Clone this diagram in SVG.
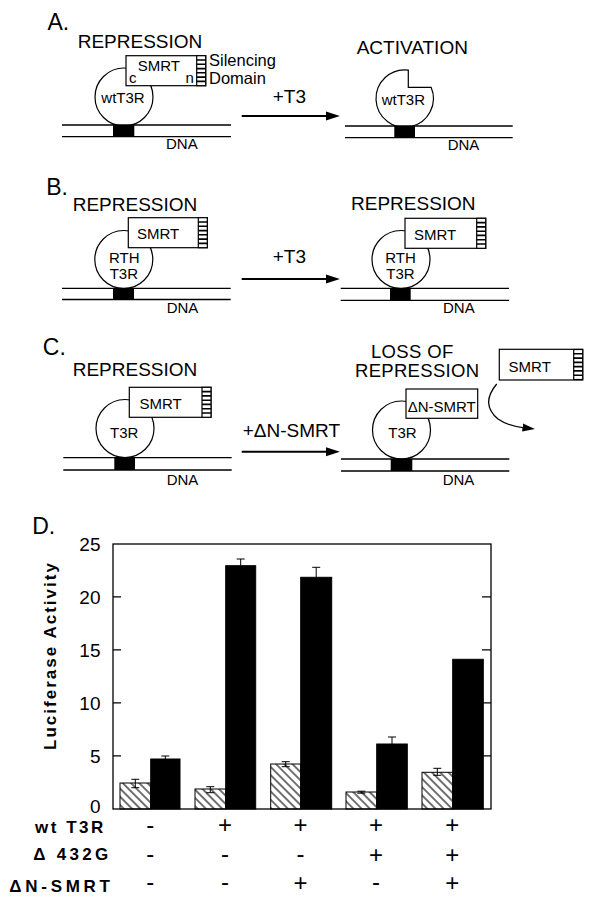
<svg xmlns="http://www.w3.org/2000/svg" width="600" height="905" viewBox="0 0 600 905">
<style>
text{font-family:"Liberation Sans",Arial,Helvetica,sans-serif;fill:#000}
.lbl{font-size:19px}
.sm{font-size:15px}
.pl{font-size:23px}
.tk{font-size:19px;text-anchor:end}
.sg{font-size:24px;text-anchor:middle}
.row{font-size:17px;font-weight:bold}
.mid{text-anchor:middle}
.ln{stroke:#000;stroke-width:1.3;fill:none}
.circ{stroke:#000;stroke-width:1.2;fill:#fff}
.box{stroke:#000;stroke-width:1.2;fill:#fff}
.arr{stroke:#000;stroke-width:2;fill:none}
.blk{fill:#000}
.hat{fill:url(#diag);stroke:#000;stroke-width:1}
.bar{fill:#000;stroke:#000;stroke-width:1}
.err{stroke:#000;stroke-width:1;fill:none}
</style>
<defs>
<marker id="ah" markerUnits="userSpaceOnUse" markerWidth="14" markerHeight="10" refX="6.7" refY="5" orient="auto"><path d="M0,0.5 L14,5 L0,9.5z" fill="#000"/></marker>
<marker id="ah2" markerUnits="userSpaceOnUse" markerWidth="13" markerHeight="9" refX="2" refY="4.5" orient="auto"><path d="M0,0.5 L12.5,4.5 L0,8.5z" fill="#000"/></marker>
<pattern id="diag" patternUnits="userSpaceOnUse" width="10" height="5.8" patternTransform="rotate(45)"><line x1="0" y1="2.9" x2="10" y2="2.9" stroke="#000" stroke-width="1.1"/></pattern>
<g id="dom"><rect x="0" y="0" width="9" height="30" fill="#fff" stroke="#000" stroke-width="1.2"/><path d="M0,4.3H9M0,8.6H9M0,12.9H9M0,17.1H9M0,21.4H9M0,25.7H9" stroke="#000" stroke-width="1.6"/></g>
</defs>
<rect width="600" height="905" fill="#fff"/>

<!-- Panel A -->
<g id="A-repression">
<text class="pl" x="47.5" y="30">A.</text>
<text class="lbl" x="77.7" y="48.3">REPRESSION</text>
<circle class="circ" cx="124" cy="97" r="29"/>
<path class="ln" d="M62,125H231M62,136.7H231"/>
<rect class="blk" x="113" y="125" width="21.3" height="11.7"/>
<rect class="box" x="126" y="55.7" width="79.7" height="30"/>
<use href="#dom" x="196.7" y="55.7"/>
<text class="sm mid" x="158.8" y="71">SMRT</text>
<text class="sm" x="129" y="83.3">c</text>
<text class="sm" x="185.5" y="83.3">n</text>
<text class="sm mid" x="123" y="103">wtT3R</text>
<text class="sm" x="166" y="149">DNA</text>
<text style="font-size:16.5px" x="209" y="65.7">Silencing</text>
<text style="font-size:16.5px" x="209" y="84">Domain</text>
</g>
<g id="A-activation">
<text class="lbl" x="356.7" y="54.3">ACTIVATION</text>
<path class="circ" d="M408.3,70.1 A28.7,28.7 0 1 0 431.1,87.3 L408.3,87.3 Z"/>
<path class="ln" d="M345,126H512.7M345,137.7H512.7"/>
<rect class="blk" x="394.3" y="126" width="20.7" height="11.7"/>
<text class="sm mid" x="403.3" y="105">wtT3R</text>
<text class="sm" x="447.7" y="150">DNA</text>
</g>

<!-- Panel B -->
<g id="B-repression-left">
<text class="pl" x="46.2" y="195">B.</text>
<text class="lbl" x="72.7" y="210.7">REPRESSION</text>
<circle class="circ" cx="123.8" cy="259.5" r="29"/>
<path class="ln" d="M62,288.3H230.7M62,299.5H230.7"/>
<rect class="blk" x="113" y="288.3" width="21" height="11.2"/>
<rect class="box" x="128.3" y="217.7" width="79" height="30"/>
<use href="#dom" x="198.3" y="217.7"/>
<text class="sm mid" x="158" y="239.3">SMRT</text>
<text class="sm mid" x="124.2" y="263.3">RTH</text>
<text class="sm mid" x="123.8" y="279">T3R</text>
<text class="sm" x="166.7" y="313.3">DNA</text>
</g>
<g id="B-repression-right">
<text class="lbl" x="351" y="210">REPRESSION</text>
<circle class="circ" cx="401" cy="259.5" r="29"/>
<path class="ln" d="M340.7,288.3H509M340.7,300.3H509"/>
<rect class="blk" x="390" y="288.3" width="20.7" height="12"/>
<rect class="box" x="405" y="218.3" width="80.7" height="30"/>
<use href="#dom" x="476.7" y="218.3"/>
<text class="sm mid" x="435" y="240">SMRT</text>
<text class="sm mid" x="400.5" y="263.3">RTH</text>
<text class="sm mid" x="400.5" y="279">T3R</text>
<text class="sm" x="443" y="313.3">DNA</text>
</g>

<!-- Panel C -->
<g id="C-repression">
<text class="pl" x="42.8" y="355">C.</text>
<text class="lbl" x="72.7" y="375.7">REPRESSION</text>
<circle class="circ" cx="125" cy="428.5" r="29"/>
<path class="ln" d="M63.3,457.7H231.7M63.3,470H231.7"/>
<rect class="blk" x="114.3" y="457.7" width="20.7" height="12.3"/>
<rect class="box" x="129.3" y="387.3" width="81.7" height="30"/>
<use href="#dom" x="202" y="387.3"/>
<text class="sm mid" x="160.5" y="409">SMRT</text>
<text class="sm mid" x="124.2" y="438.3">T3R</text>
<text class="sm" x="166.7" y="485">DNA</text>
</g>
<g id="C-loss">
<text style="font-size:18.5px" x="370.9" y="357.5" textLength="82.4">LOSS OF</text>
<text style="font-size:18.5px" x="355" y="377.2" textLength="124">REPRESSION</text>
<circle class="circ" cx="401.5" cy="430" r="29"/>
<path class="ln" d="M341,459H509.3M341,471H509.3"/>
<rect class="blk" x="390.7" y="459" width="21.6" height="12"/>
<rect class="box" x="406" y="389" width="71.7" height="29.3"/>
<text class="sm mid" x="441.7" y="411.7">ΔN-SMRT</text>
<text class="sm mid" x="402.5" y="438.3">T3R</text>
<text class="sm" x="442.7" y="485">DNA</text>
</g>
<g id="C-free-SMRT">
<rect class="box" x="499.3" y="349.3" width="83.4" height="30.7"/>
<use href="#dom" x="573.7" y="349.5"/>
<text class="sm mid" x="529.7" y="371.7">SMRT</text>
</g>

<!-- Connectors -->
<g id="connectors">
<line class="arr" x1="241.7" y1="116" x2="332.6" y2="116" marker-end="url(#ah)"/>
<text class="lbl" x="272.7" y="103">+T3</text>
<line class="arr" x1="241.7" y1="279" x2="332.6" y2="279" marker-end="url(#ah)"/>
<text class="lbl" x="272.7" y="263.3">+T3</text>
<line class="arr" x1="241.7" y1="451.7" x2="332.6" y2="451.7" marker-end="url(#ah)"/>
<text class="lbl" x="242.7" y="436.7">+ΔN-SMRT</text>
<path d="M496.7,384 Q480,404 498,419 Q508,426 524.5,427.8" stroke="#000" stroke-width="1.3" fill="none" marker-end="url(#ah2)"/>
</g>

<!-- Panel D chart -->
<g id="D-chart">
<text class="pl" x="32.2" y="534">D.</text>
<text class="row" transform="translate(55.5,656.5) rotate(-90)" text-anchor="middle" textLength="187">Luciferase  Activity</text>
<rect x="113" y="544" width="378" height="265" fill="none" stroke="#000" stroke-width="1.3"/>
<path class="ln" d="M113,596.9H121M113,649.9H121M113,702.9H121M113,755.9H121M482,596.9H491M482,649.9H491M482,702.9H491M482,755.9H491"/>
<text class="tk" x="100.5" y="550.5">25</text>
<text class="tk" x="100.5" y="603.5">20</text>
<text class="tk" x="100.5" y="656.5">15</text>
<text class="tk" x="100.5" y="709.5">10</text>
<text class="tk" x="100.5" y="762.5">5</text>
<text class="tk" x="100.5" y="813">0</text>

<rect class="hat" x="120" y="783" width="30.7" height="26"/>
<rect class="bar" x="150.7" y="759" width="29.3" height="50"/>
<rect class="hat" x="195" y="789" width="30.7" height="20"/>
<rect class="bar" x="225.7" y="565.7" width="30" height="243.3"/>
<rect class="hat" x="270.7" y="764" width="30" height="45"/>
<rect class="bar" x="300.7" y="577.3" width="31" height="231.7"/>
<rect class="hat" x="346" y="792" width="30.7" height="17"/>
<rect class="bar" x="376.7" y="744" width="30.6" height="65"/>
<rect class="hat" x="422" y="772.3" width="30.7" height="36.7"/>
<rect class="bar" x="452.7" y="659.3" width="30.6" height="149.7"/>

<path class="err" d="M135.3,779.3V787.7M131.3,779.3H139.3M131.3,787.7H139.3"/>
<path class="err" d="M165.3,756V759M161.3,756H169.3"/>
<path class="err" d="M210.3,786.7V792.7M206.3,786.7H214.3M206.3,792.7H214.3"/>
<path class="err" d="M240.7,559V565.7M236.7,559H244.7"/>
<path class="err" d="M285.7,761.7V766.7M281.7,761.7H289.7M281.7,766.7H289.7"/>
<path class="err" d="M316.2,567.3V577.3M312.2,567.3H320.2"/>
<path class="err" d="M361.3,791.2V793.2M357.3,791.2H365.3M357.3,793.2H365.3"/>
<path class="err" d="M392,737V744M388,737H396"/>
<path class="err" d="M437.3,768.3V775.3M433.3,768.3H441.3M433.3,775.3H441.3"/>
</g>

<g id="D-table">
<text class="row" x="35" y="832.5" textLength="68.3">wt T3R</text>
<text class="row" x="33.3" y="860" textLength="75">Δ 432G</text>
<text class="row" x="9.3" y="891.7" textLength="100.7">ΔN-SMRT</text>
<text class="sg" x="150.3" y="832.5">-</text>
<text class="sg" x="225" y="832.5">+</text>
<text class="sg" x="300.5" y="832.5">+</text>
<text class="sg" x="376" y="832.5">+</text>
<text class="sg" x="452.3" y="832.5">+</text>
<text class="sg" x="150.3" y="861.5">-</text>
<text class="sg" x="225" y="861.5">-</text>
<text class="sg" x="300.5" y="861.5">-</text>
<text class="sg" x="376" y="862.5">+</text>
<text class="sg" x="452.3" y="862.5">+</text>
<text class="sg" x="150.3" y="890">-</text>
<text class="sg" x="225" y="890">-</text>
<text class="sg" x="300.5" y="891">+</text>
<text class="sg" x="376" y="890">-</text>
<text class="sg" x="452.3" y="891">+</text>
</g>
</svg>
